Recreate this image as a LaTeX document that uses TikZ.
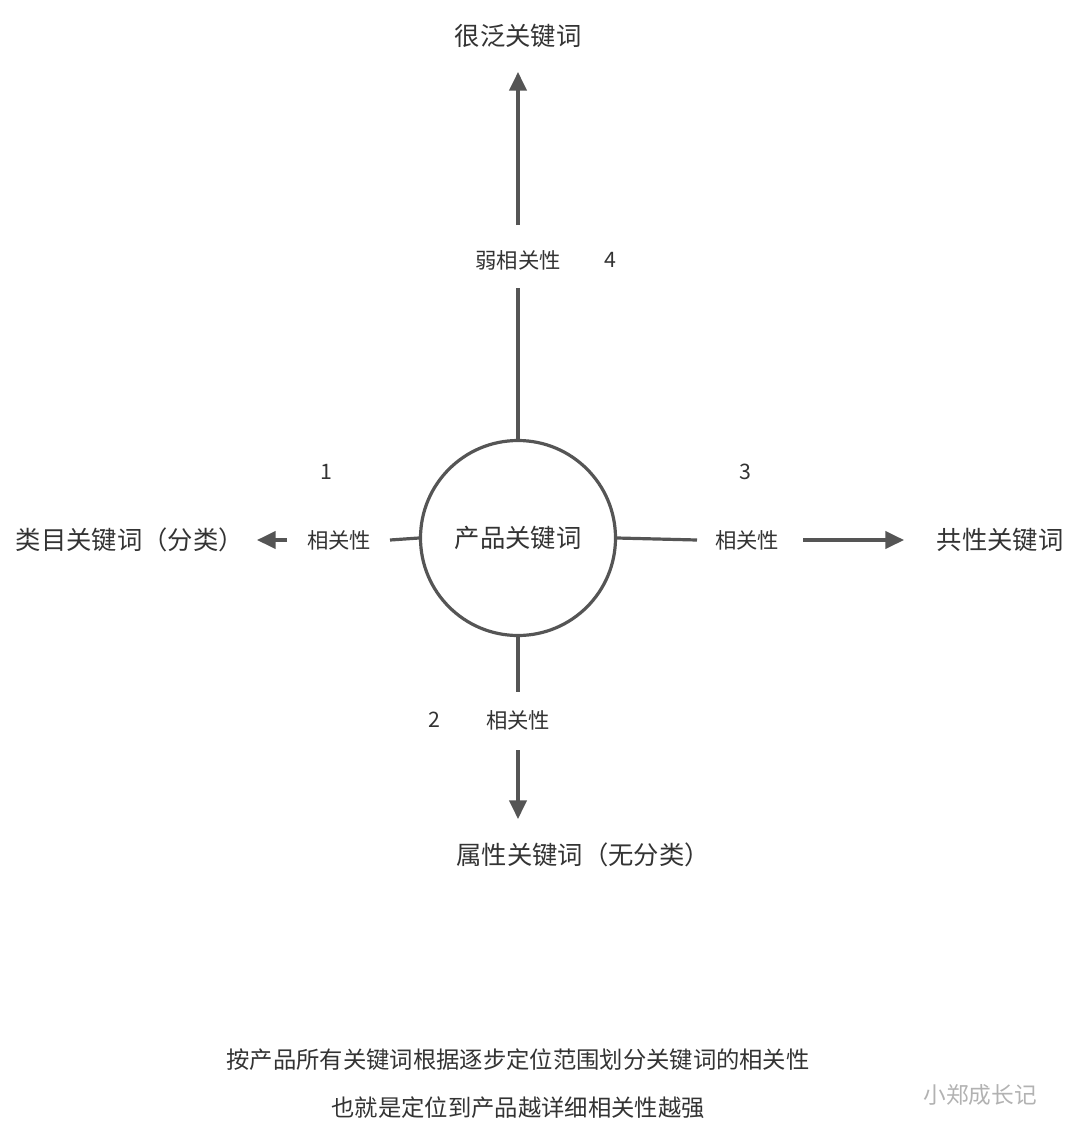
\documentclass[tikz,border=0pt]{standalone}
\usepackage{fontspec}
\setmainfont{Noto Sans CJK SC}
\usetikzlibrary{arrows.meta}
\definecolor{ln}{HTML}{555555}
\definecolor{tx}{HTML}{333333}
\begin{document}
\begin{tikzpicture}[x=0.75pt,y=-0.75pt,
  conn/.style={draw=ln,line width=2.4pt},
  arr/.style={conn,-{Triangle[length=14pt,width=13pt]}},
  big/.style={text=tx,font=\fontsize{19}{22}\selectfont,inner sep=0pt},
  small/.style={text=tx,font=\fontsize{16}{19}\selectfont,inner sep=0pt},
  note/.style={text=tx,font=\fontsize{17.5}{21}\selectfont,inner sep=0pt}]
\useasboundingbox (0,0) rectangle (1080,1143);
\node[circle,draw=ln,line width=2.4pt,minimum size=195*0.75pt,big] (c) at (518,538) {产品关键词};
% top
\node[big] (top) at (518,36) {很泛关键词};
\node[small] (l4) at (518,260) {弱相关性};
\node[small] (n4) at (610,260) {4};
\coordinate (t1) at (518,288);
\coordinate (t2) at (518,225);
\coordinate (t3) at (518,72);
\draw[conn] (c.north) -- (t1);
\draw[arr] (t2) -- (t3);
% left
\node[big] (left) at (130,540) {类目关键词（分类）};
\node[small] (l1) at (339,540) {相关性};
\node[small] (n1) at (326,472) {1};
\coordinate (a1) at (390,540);
\coordinate (a2) at (287,540);
\coordinate (a3) at (257,540);
\draw[conn] (c.west) -- (a1);
\draw[arr] (a2) -- (a3);
% right
\node[big] (right) at (1000,540) {共性关键词};
\node[small] (l3) at (747,540) {相关性};
\node[small] (n3) at (745,472) {3};
\coordinate (b1) at (697,540);
\coordinate (b2) at (803,540);
\coordinate (b3) at (904,540);
\draw[conn] (c.east) -- (b1);
\draw[arr] (b2) -- (b3);
% bottom
\node[big] (bottom) at (583,855) {属性关键词（无分类）};
\node[small] (l2) at (518,720) {相关性};
\node[small] (n2) at (434,720) {2};
\coordinate (d1) at (518,692);
\coordinate (d2) at (518,750);
\coordinate (d3) at (518,819);
\draw[conn] (c.south) -- (d1);
\draw[arr] (d2) -- (d3);
% notes
\node[note] (s1) at (518,1060) {按产品所有关键词根据逐步定位范围划分关键词的相关性};
\node[note] (s2) at (518,1108) {也就是定位到产品越详细相关性越强};
\node[text=gray!60,font=\fontsize{17}{20}\selectfont,inner sep=0pt] (wm) at (980,1095) {小郑成长记};
\end{tikzpicture}
\end{document}
